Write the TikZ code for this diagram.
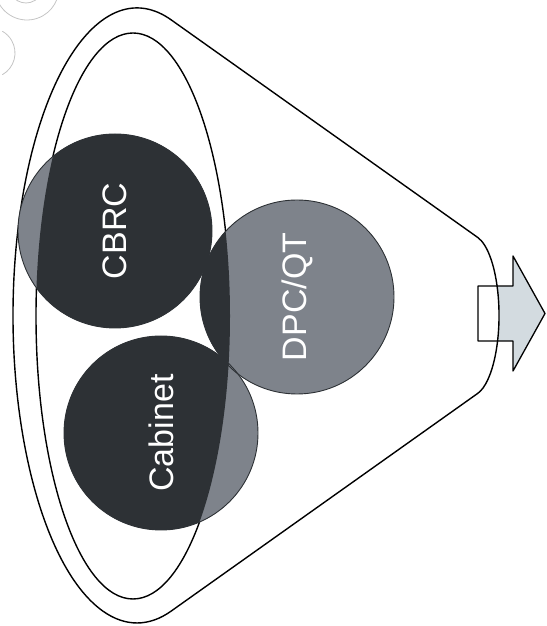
\documentclass[tikz,border=0pt]{standalone}
\usepackage{fontspec}
\newfontfamily\labelfont{Liberation Sans}
\usetikzlibrary{arrows.meta}
\definecolor{darkfill}{HTML}{2D3135}
\definecolor{grayfill}{HTML}{7E838B}
\definecolor{arrowfill}{HTML}{D3DBE0}
\definecolor{scanmark}{HTML}{C4C4C4}
\tikzset{
  every picture/.style={line join=round, line cap=round, x=1pt, y=1pt},
  outline/.style={line width=1.4pt, black},
  body/.style={circle, minimum size=194pt, inner sep=0pt, draw=darkfill, line width=0.9pt, text=white, font=\labelfont\fontsize{34}{34}\selectfont, rotate=90},
}

\begin{document}
\begin{tikzpicture}
\useasboundingbox (0,0) rectangle (546,626);
\draw[scanmark,line width=0.8pt] (27,638) ++(210:32) arc[start angle=210,end angle=340,radius=32];
\draw[scanmark,line width=0.8pt] (26,640) ++(225:17) arc[start angle=225,end angle=320,radius=17];
\draw[scanmark,line width=0.8pt] (-10,573) ++(-60:25) arc[start angle=-60,end angle=60,radius=25];
\fill[arrowfill] (478,285) -- (513,285) -- (513,255) -- (545,312.5) -- (513,370) -- (513,340) -- (478,340) -- cycle;
\fill[white] (171.2,606.1) arc[start angle=74,end angle=286,x radius=124,y radius=307.5] -- (477.7,232.6) arc[start angle=-76.2,end angle=76.2,x radius=28,y radius=80.3] -- cycle;
\draw[line width=1.3pt] (478,285) -- (513,285) -- (513,255) -- (545,312.5) -- (513,370) -- (513,340) -- (478,340) -- cycle;
\draw[outline] (171.2,606.1) arc[start angle=74,end angle=286,x radius=124,y radius=307.5] -- (477.7,232.6) arc[start angle=-76.2,end angle=76.2,x radius=28,y radius=80.3] -- cycle;
\draw[outline] (133,310) ellipse[x radius=97,y radius=283];
\coordinate (p-cbrc) at (115,395);
\coordinate (p-dpc) at (297,329);
\coordinate (p-cabinet) at (161,193);
\foreach \c in {cbrc,dpc,cabinet}
  \fill[grayfill] (p-\c) circle[radius=97];
\begin{scope}
\clip (133,310) ellipse[x radius=97,y radius=283];
\foreach \c in {cbrc,dpc,cabinet}
  \fill[darkfill] (p-\c) circle[radius=97];
\end{scope}
\node[body] (cbrc) at (p-cbrc) {CBRC};
\node[body] (dpc) at (p-dpc) {DPC/QT};
\node[body] (cabinet) at (p-cabinet) {Cabinet};
\end{tikzpicture}
\end{document}
